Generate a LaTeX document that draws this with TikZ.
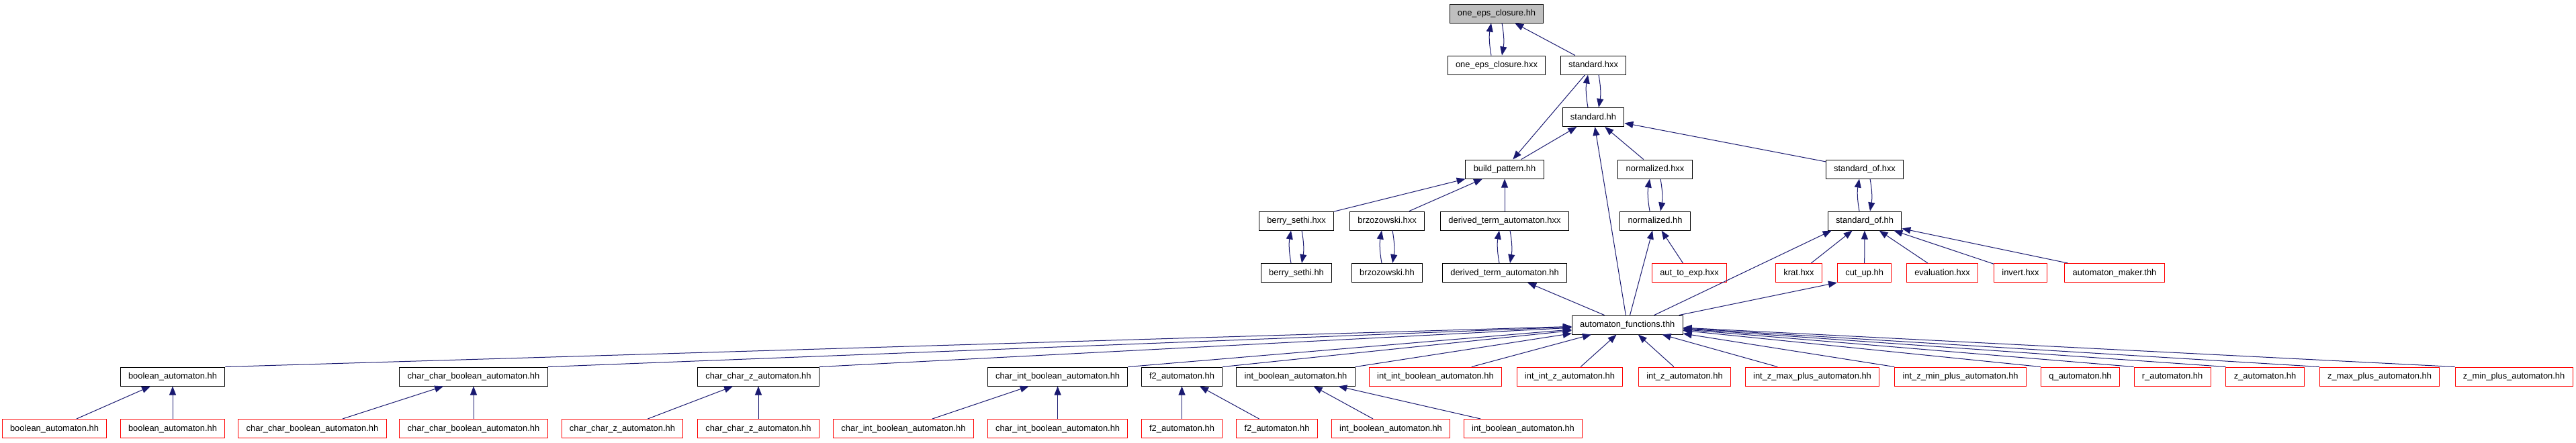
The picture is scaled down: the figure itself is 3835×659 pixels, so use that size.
\documentclass[tikz,border=0pt]{standalone}
\usepackage{fontspec}
\setmainfont{Liberation Sans}
\usetikzlibrary{arrows.meta}
\definecolor{edgeblue}{HTML}{191970}
\definecolor{rootgray}{HTML}{BFBFBF}
\tikzset{
  filebox/.style={rectangle, draw=black, line width=1pt, fill=white, minimum height=28pt,
    inner xsep=11.8pt, inner ysep=0pt, text height=9.5pt, text depth=2.5pt,
    font=\fontsize{12.9}{15}\selectfont},
  truncbox/.style={filebox, draw=red},
  rootbox/.style={filebox, fill=rootgray},
  dep/.style={draw=edgeblue, line width=1pt, -{Triangle[length=13pt,width=10pt]}},
}
\newcommand\dualedge[2]{%
  \draw[dep] ([xshift=-8pt]#2.north) to[bend left=10] ([xshift=-8pt]#1.south);
  \draw[dep] ([xshift=8pt]#1.south) to[bend left=10] ([xshift=8pt]#2.north);
}
\begin{document}
\begin{tikzpicture}[x=1pt,y=-1pt]
\fill[white] (0,0) rectangle (3835,659);
\useasboundingbox (0,0) rectangle (3835,659);

% rows 1-4
\node[rootbox] (oeh) at (2228,20) {one\_eps\_closure.hh};
\node[filebox] (oex) at (2228,97) {one\_eps\_closure.hxx};
\node[filebox] (stx) at (2372,97) {standard.hxx};
\node[filebox] (sth) at (2372,174.5) {standard.hh};
\node[filebox] (bp)  at (2240,252) {build\_pattern.hh};
\node[filebox] (nhx) at (2464,252) {normalized.hxx};
\node[filebox] (sox) at (2776,252) {standard\_of.hxx};
% row 5
\node[filebox] (bsx) at (1930,329) {berry\_sethi.hxx};
\node[filebox] (bzx) at (2065,329) {brzozowski.hxx};
\node[filebox] (dtx) at (2240,329) {derived\_term\_automaton.hxx};
\node[filebox] (nhh) at (2464,329) {normalized.hh};
\node[filebox] (soh) at (2776,329) {standard\_of.hh};
% row 6
\node[filebox] (bsh) at (1930,406.5) {berry\_sethi.hh};
\node[filebox] (bzh) at (2065,406.5) {brzozowski.hh};
\node[filebox] (dth) at (2240,406.5) {derived\_term\_automaton.hh};
\node[truncbox] (ate) at (2515,406.5) {aut\_to\_exp.hxx};
\node[truncbox] (krat) at (2678,406.5) {krat.hxx};
\node[truncbox] (cut) at (2775.6,406.5) {cut\_up.hh};
\node[truncbox] (eval) at (2891.5,406.5) {evaluation.hxx};
\node[truncbox] (inv) at (3008,406.5) {invert.hxx};
\node[truncbox] (amk) at (3148,406.5) {automaton\_maker.thh};
% automaton functions
\node[filebox] (af) at (2422.7,484) {automaton\_functions.thh};
% row 7
\node[filebox] (b7a) at (257,561) {boolean\_automaton.hh};
\node[filebox] (b7b) at (705,561) {char\_char\_boolean\_automaton.hh};
\node[filebox] (b7c) at (1129,561) {char\_char\_z\_automaton.hh};
\node[filebox] (b7d) at (1574.6,561) {char\_int\_boolean\_automaton.hh};
\node[filebox] (b7e) at (1759.5,561) {f2\_automaton.hh};
\node[filebox] (b7f) at (1929,561) {int\_boolean\_automaton.hh};
\node[truncbox] (r7a) at (2137,561) {int\_int\_boolean\_automaton.hh};
\node[truncbox] (r7b) at (2337,561) {int\_int\_z\_automaton.hh};
\node[truncbox] (r7c) at (2508,561) {int\_z\_automaton.hh};
\node[truncbox] (r7d) at (2698,561) {int\_z\_max\_plus\_automaton.hh};
\node[truncbox] (r7e) at (2918.6,561) {int\_z\_min\_plus\_automaton.hh};
\node[truncbox] (r7f) at (3097,561) {q\_automaton.hh};
\node[truncbox] (r7g) at (3234,561) {r\_automaton.hh};
\node[truncbox] (r7h) at (3372,561) {z\_automaton.hh};
\node[truncbox] (r7i) at (3542.6,561) {z\_max\_plus\_automaton.hh};
\node[truncbox] (r7j) at (3742.6,561) {z\_min\_plus\_automaton.hh};
% row 8
\node[truncbox] (r8a) at (81,638.5) {boolean\_automaton.hh};
\node[truncbox] (r8b) at (257,638.5) {boolean\_automaton.hh};
\node[truncbox] (r8c) at (465,638.5) {char\_char\_boolean\_automaton.hh};
\node[truncbox] (r8d) at (705,638.5) {char\_char\_boolean\_automaton.hh};
\node[truncbox] (r8e) at (926.5,638.5) {char\_char\_z\_automaton.hh};
\node[truncbox] (r8f) at (1129,638.5) {char\_char\_z\_automaton.hh};
\node[truncbox] (r8g) at (1345,638.5) {char\_int\_boolean\_automaton.hh};
\node[truncbox] (r8h) at (1574.6,638.5) {char\_int\_boolean\_automaton.hh};
\node[truncbox] (r8i) at (1759.5,638.5) {f2\_automaton.hh};
\node[truncbox] (r8j) at (1901,638.5) {f2\_automaton.hh};
\node[truncbox] (r8k) at (2070.5,638.5) {int\_boolean\_automaton.hh};
\node[truncbox] (r8l) at (2267.5,638.5) {int\_boolean\_automaton.hh};

% paired edges
\dualedge{oeh}{oex}
\dualedge{stx}{sth}
\dualedge{bsx}{bsh}
\dualedge{bzx}{bzh}
\dualedge{dtx}{dth}
\dualedge{nhx}{nhh}
\dualedge{sox}{soh}

% upper edges
\draw[dep] (stx) -- (oeh);
\draw[dep] (stx) -- (bp);
\draw[dep] (bp) -- (sth);
\draw[dep] (nhx) -- (sth);
\draw[dep] (sox) -- (sth);
\draw[dep] (af) -- (sth);
\draw[dep] (bsx) -- (bp);
\draw[dep] (bzx) -- (bp);
\draw[dep] (dtx) -- (bp);
\draw[dep] (af) -- (nhh);
\draw[dep] (ate) -- (nhh);
\draw[dep] (af) -- (dth);
\draw[dep] ([xshift=40pt]af.north) -- ([xshift=6pt]soh.south west);
\draw[dep] ([xshift=77pt]af.north) -- (cut.south west);
\draw[dep] (krat) -- (soh);
\draw[dep] (cut) -- (soh);
\draw[dep] (eval) -- (soh);
\draw[dep] (inv) -- (soh);
\draw[dep] (amk) -- (soh);

% row 7 to automaton_functions
\draw[dep] (b7a.north east) -- (af);
\draw[dep] (b7b.north east) -- (af);
\draw[dep] (b7c.north east) -- (af);
\draw[dep] (b7d.north east) -- (af);
\draw[dep] (b7e.north east) -- (af);
\draw[dep] (b7f.north east) -- (af);
\draw[dep] (r7a) -- (af);
\draw[dep] (r7b) -- (af);
\draw[dep] (r7c) -- (af);
\draw[dep] (r7d) -- (af);
\draw[dep] (r7e.north west) -- (af);
\draw[dep] (r7f.north west) -- (af);
\draw[dep] (r7g.north west) -- (af);
\draw[dep] (r7h.north west) -- (af);
\draw[dep] (r7i.north west) -- (af);
\draw[dep] (r7j.north west) -- (af);

% row 8 to row 7
\draw[dep] (r8a) -- (b7a);
\draw[dep] (r8b) -- (b7a);
\draw[dep] (r8c) -- (b7b);
\draw[dep] (r8d) -- (b7b);
\draw[dep] (r8e) -- (b7c);
\draw[dep] (r8f) -- (b7c);
\draw[dep] (r8g) -- (b7d);
\draw[dep] (r8h) -- (b7d);
\draw[dep] (r8i) -- (b7e);
\draw[dep] (r8j) -- (b7e);
\draw[dep] (r8k) -- (b7f);
\draw[dep] (r8l) -- (b7f);
\end{tikzpicture}
\end{document}
